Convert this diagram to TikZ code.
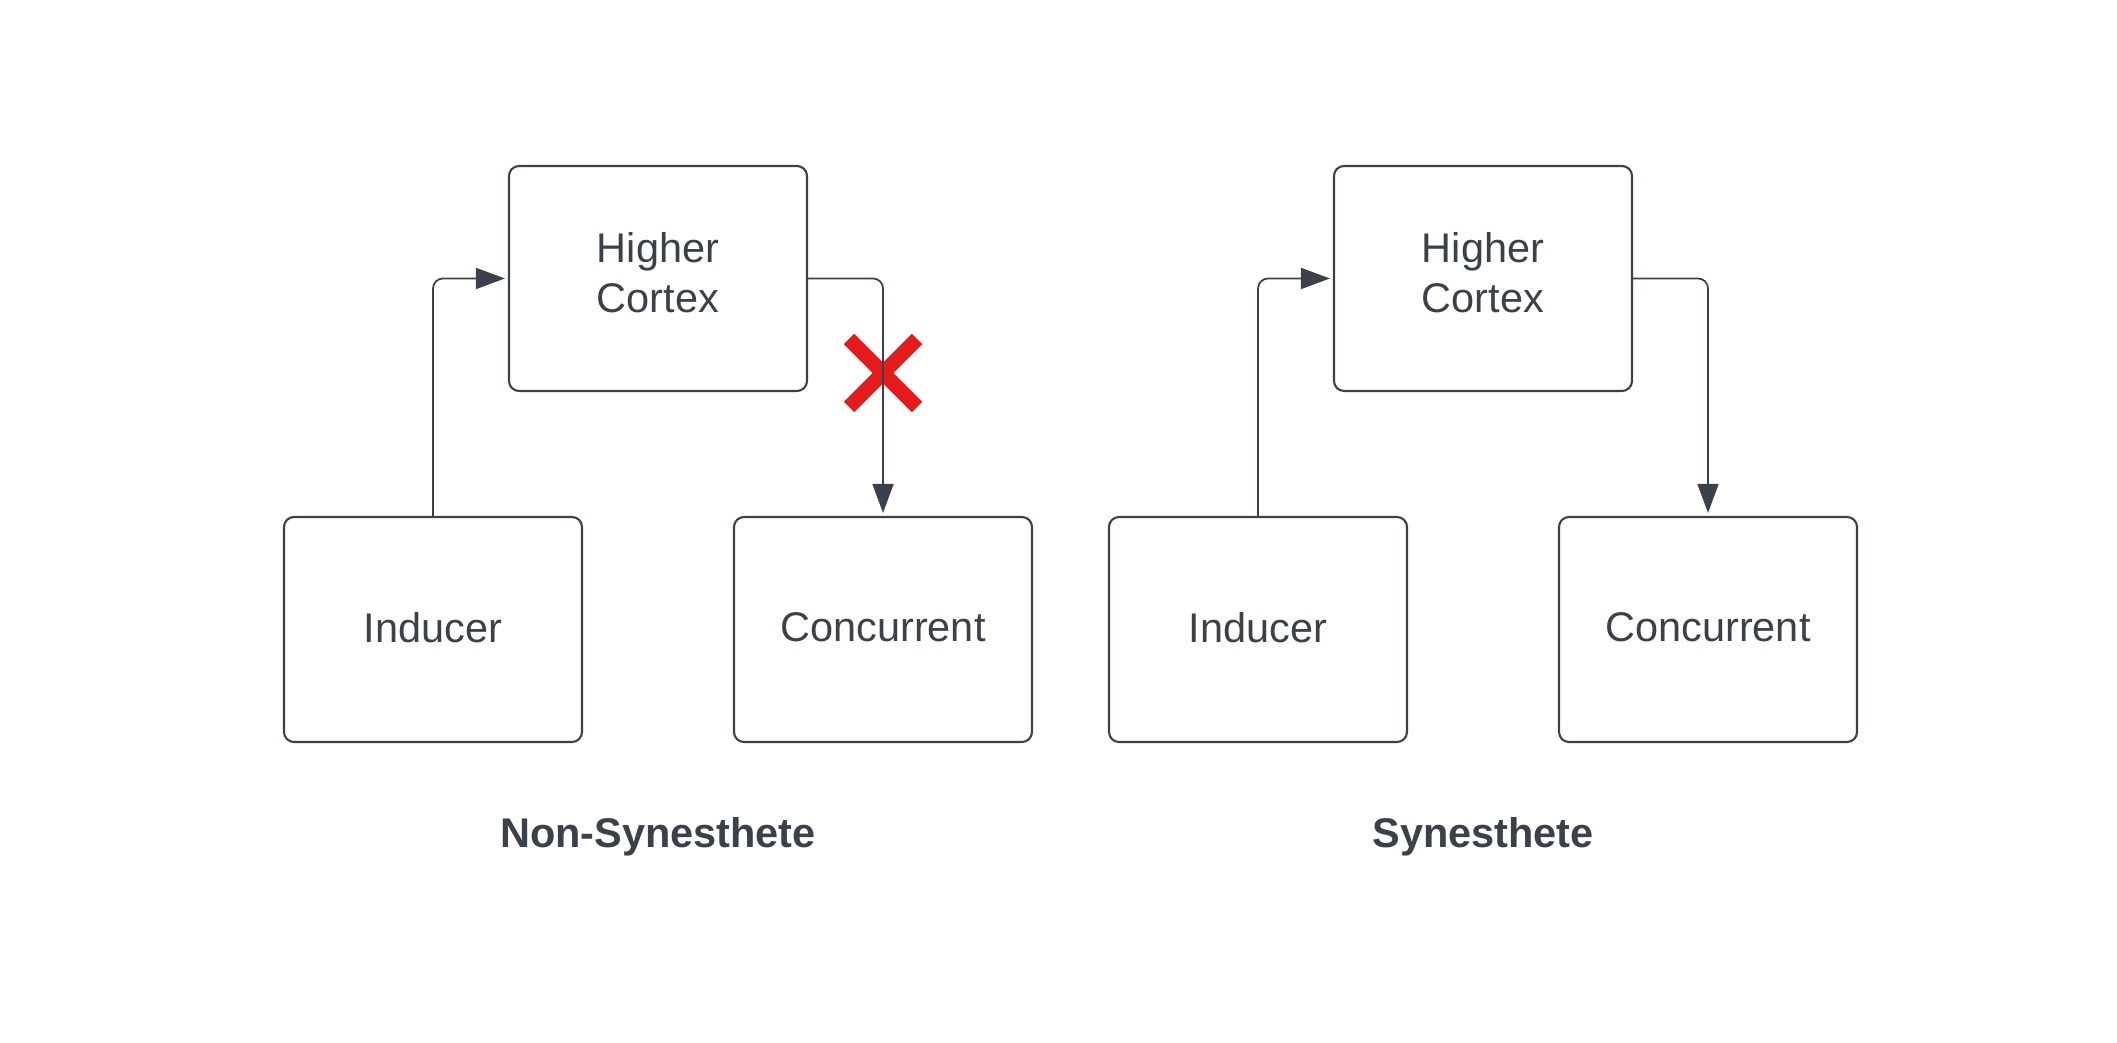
\documentclass[tikz,border=0pt]{standalone}
\usepackage{fontspec}
\setmainfont{Liberation Sans}
\usetikzlibrary{arrows.meta}

\definecolor{ink}{HTML}{3A414A}
\definecolor{crossred}{HTML}{E51A1A}

\begin{document}
\begin{tikzpicture}[
    box/.style={draw=ink, line width=0.6pt, rounded corners=1mm,
        minimum width=2.98cm, minimum height=2.25cm, align=center,
        text=ink, font=\fontsize{11.8}{14.3}\selectfont},
    conn/.style={draw=ink, line width=0.5pt, rounded corners=1mm,
        -{Triangle[length=2.9mm, width=2.1mm]}, shorten >=0.3mm},
    caption/.style={text=ink, font=\fontsize{11.8}{14}\selectfont\bfseries},
    cut/.style={draw=crossred, line width=4.2pt}
]

    % fixed frame, same proportions as the page
    \useasboundingbox (0,0) rectangle (21.17,10.43);

    % ==========================================
    % LEFT: NON-SYNESTHETE
    % ==========================================

    % Boxes
    \node[box, text depth=1.2mm] (hcNon) at (6.58, 7.645) {Higher\\Cortex};
    \node[box, text depth=0.5mm] (indNon) at (4.33, 4.135) {Inducer};
    \node[box, text depth=0.5mm] (conNon) at (8.83, 4.135) {Concurrent};

    % Blocked path (cross drawn under the connector)
    \coordinate (block) at (8.83, 6.70);
    \draw[cut] (block) ++(-0.34,-0.34) -- ++(0.68,0.68);
    \draw[cut] (block) ++(-0.34,0.34) -- ++(0.68,-0.68);

    % Connectors
    \draw[conn] (indNon.north) |- (hcNon.west);
    \draw[conn] (hcNon.east) -| (conNon.north);

    \node[caption] (capNon) at (6.58, 2.06) {Non-Synesthete};

    % ==========================================
    % RIGHT: SYNESTHETE
    % ==========================================
    \begin{scope}[xshift=8.25cm]
        % Boxes
        \node[box, text depth=1.2mm] (hcSyn) at (6.58, 7.645) {Higher\\Cortex};
        \node[box, text depth=0.5mm] (indSyn) at (4.33, 4.135) {Inducer};
        \node[box, text depth=0.5mm] (conSyn) at (8.83, 4.135) {Concurrent};

        % Connectors
        \draw[conn] (indSyn.north) |- (hcSyn.west);
        \draw[conn] (hcSyn.east) -| (conSyn.north);

        \node[caption] (capSyn) at (6.58, 2.06) {Synesthete};
    \end{scope}

\end{tikzpicture}
\end{document}
